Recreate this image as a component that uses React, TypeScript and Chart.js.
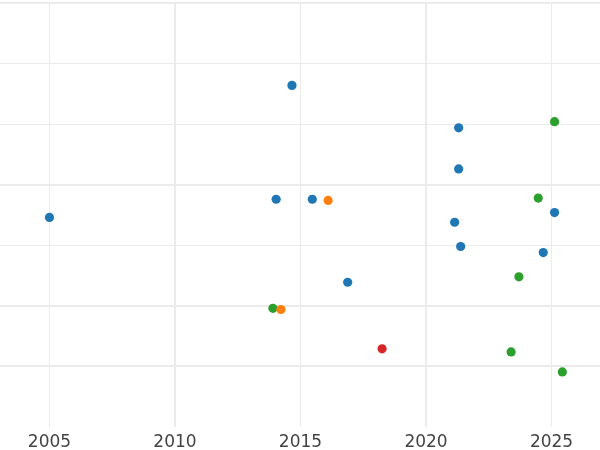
import React, { useEffect, useRef } from "react";
import { Chart, registerables } from "chart.js";

Chart.register(...registerables);

const blueX = [2005.0, 2014.66, 2021.3, 2021.3, 2014.03, 2015.47, 2025.12, 2021.14, 2021.38, 2024.67, 2016.88];
const blueY = [3.46, 5.64, 4.94, 4.26, 3.76, 3.76, 3.54, 3.38, 2.98, 2.88, 2.39];
const orangeX = [2016.1, 2014.22];
const orangeY = [3.74, 1.94];
const greenX = [2025.12, 2024.47, 2023.7, 2013.9, 2023.39, 2025.43];
const greenY = [5.04, 3.78, 2.48, 1.96, 1.24, 0.91];
const redX = [2018.25];
const redY = [1.29];

const xTicks = [2005, 2010, 2015, 2020, 2025];
const xMajor = [2010, 2020];
const yTicks = [1, 2, 3, 4, 5, 6, 7];
const yMajor = [1, 2, 4, 7];

const pts = (xs: number[], ys: number[]) => xs.map((x, i) => ({ x, y: ys[i] }));

export default function App() {
  const ref = useRef<HTMLCanvasElement>(null);
  useEffect(() => {
    if (!ref.current) return;
    const mk = (label: string, xs: number[], ys: number[], color: string) => ({
      label,
      data: pts(xs, ys),
      backgroundColor: color,
      borderColor: color,
      pointRadius: 4.6,
      pointBorderWidth: 0,
    });
    const chart = new Chart(ref.current, {
      type: "scatter",
      data: {
        datasets: [
          mk("A", blueX, blueY, "#1f77b4"),
          mk("B", orangeX, orangeY, "#ff7f0e"),
          mk("C", greenX, greenY, "#2ca02c"),
          mk("D", redX, redY, "#d62728"),
        ],
      },
      options: {
        animation: false,
        responsive: false,
        layout: { autoPadding: false, padding: { top: 3, left: 0, right: 0, bottom: 0 } },
        plugins: { legend: { display: false }, tooltip: { enabled: false } },
        scales: {
          x: {
            type: "linear",
            min: 2003.03,
            max: 2026.93,
            afterBuildTicks: (s: any) => {
              s.ticks = xTicks.map((v) => ({ value: v }));
            },
            afterFit: (s: any) => {
              s.height = 23;
            },
            border: { display: false },
            grid: {
              drawTicks: false,
              color: "#ebebeb",
              lineWidth: (c: any) => (xMajor.includes(c.tick?.value) ? 2 : 1),
            },
            ticks: {
              padding: 5,
              color: "#444444",
              font: { family: "DejaVu Sans", size: 17 },
              callback: (v: any) => String(v),
            },
          },
          y: {
            type: "linear",
            min: 0,
            max: 7,
            afterBuildTicks: (s: any) => {
              s.ticks = yTicks.map((v) => ({ value: v }));
            },
            afterFit: (s: any) => {
              s.width = 0;
            },
            border: { display: false },
            grid: {
              drawTicks: false,
              color: "#ebebeb",
              lineWidth: (c: any) => (yMajor.includes(c.tick?.value) ? 2 : 1),
            },
            ticks: { display: false },
          },
        },
      },
    });
    return () => chart.destroy();
  }, []);
  return (
    <div style={{ position: "fixed", left: 0, top: 0, width: 600, height: 450, background: "#fff" }}>
      <canvas ref={ref} width={600} height={450} style={{ width: 600, height: 450 }} />
    </div>
  );
}
